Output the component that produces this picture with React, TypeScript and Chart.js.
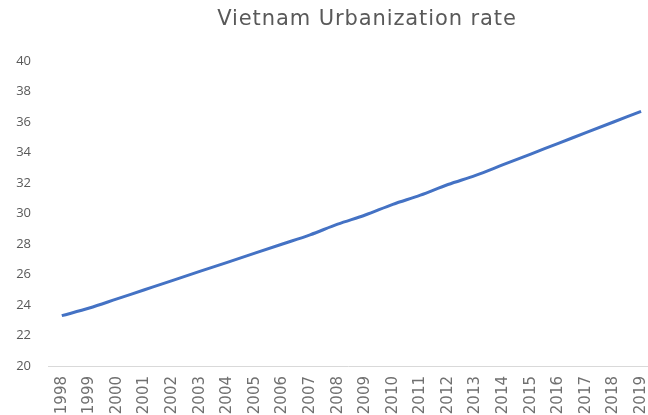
import React, { useEffect, useRef } from "react";
import { Chart, registerables } from "chart.js";

Chart.register(...registerables);

const years = [1998, 1999, 2000, 2001, 2002, 2003, 2004, 2005, 2006, 2007, 2008, 2009, 2010, 2011, 2012, 2013, 2014, 2015, 2016, 2017, 2018, 2019];
const urbanRate = [23.3, 23.8, 24.4, 25.0, 25.6, 26.2, 26.8, 27.4, 28.0, 28.6, 29.3, 29.9, 30.6, 31.2, 31.9, 32.5, 33.2, 33.9, 34.6, 35.3, 36.0, 36.7];
const titleText = "Vietnam Urbanization rate";

export default function App() {
  const ref = useRef<HTMLCanvasElement | null>(null);
  useEffect(() => {
    if (!ref.current) return;
    const chart = new Chart(ref.current, {
      type: "line",
      data: {
        datasets: [
          {
            label: "Urbanization rate",
            data: years.map((y, i) => ({ x: y, y: urbanRate[i] })),
            borderColor: "#4472C4",
            borderWidth: 3,
            pointRadius: 0,
            cubicInterpolationMode: "monotone",
            fill: false,
          },
        ],
      },
      options: {
        animation: false,
        responsive: false,
        maintainAspectRatio: false,
        layout: { padding: { left: 0, right: 0, top: 61, bottom: 0 } },
        plugins: {
          legend: { display: false },
          tooltip: { enabled: false },
          title: { display: false },
        },
        scales: {
          x: {
            type: "linear",
            min: 1997.5,
            max: 2019.25,
            afterFit: (s: any) => {
              s.height = 49;
              s.paddingLeft = 0;
              s.paddingRight = 0;
            },
            afterBuildTicks: (s: any) => {
              s.ticks = years.map((y) => ({ value: y }));
            },
            grid: { display: false, drawTicks: false },
            border: { display: true, color: "#d9d9d9", width: 1 },
            ticks: {
              color: "#707070",
              font: { family: "'DejaVu Sans', sans-serif", size: 15 },
              maxRotation: 90,
              minRotation: 90,
              autoSkip: false,
              padding: 10,
              callback: (v: any) => String(v),
            },
          },
          y: {
            min: 20,
            max: 40,
            afterFit: (s: any) => {
              s.width = 48;
            },
            grid: { display: false, drawTicks: false },
            border: { display: false },
            ticks: {
              stepSize: 2,
              color: "#595959",
              font: { family: "'Open Sans', sans-serif", size: 13 },
              padding: 17,
            },
          },
        },
      },
    });
    return () => chart.destroy();
  }, []);
  return (
    <div style={{ position: "absolute", left: 0, top: 0, width: 648, height: 415, background: "#fff", overflow: "hidden" }}>
      <canvas ref={ref} width={648} height={415} style={{ display: "block" }} />
      <div
        style={{
          position: "absolute",
          left: 367 - 200,
          top: 5,
          width: 400,
          textAlign: "center",
          fontFamily: "'DejaVu Sans', sans-serif",
          fontSize: 21,
          letterSpacing: "0.9px",
          lineHeight: "26px",
          color: "#595959",
        }}
      >
        {titleText}
      </div>
    </div>
  );
}
